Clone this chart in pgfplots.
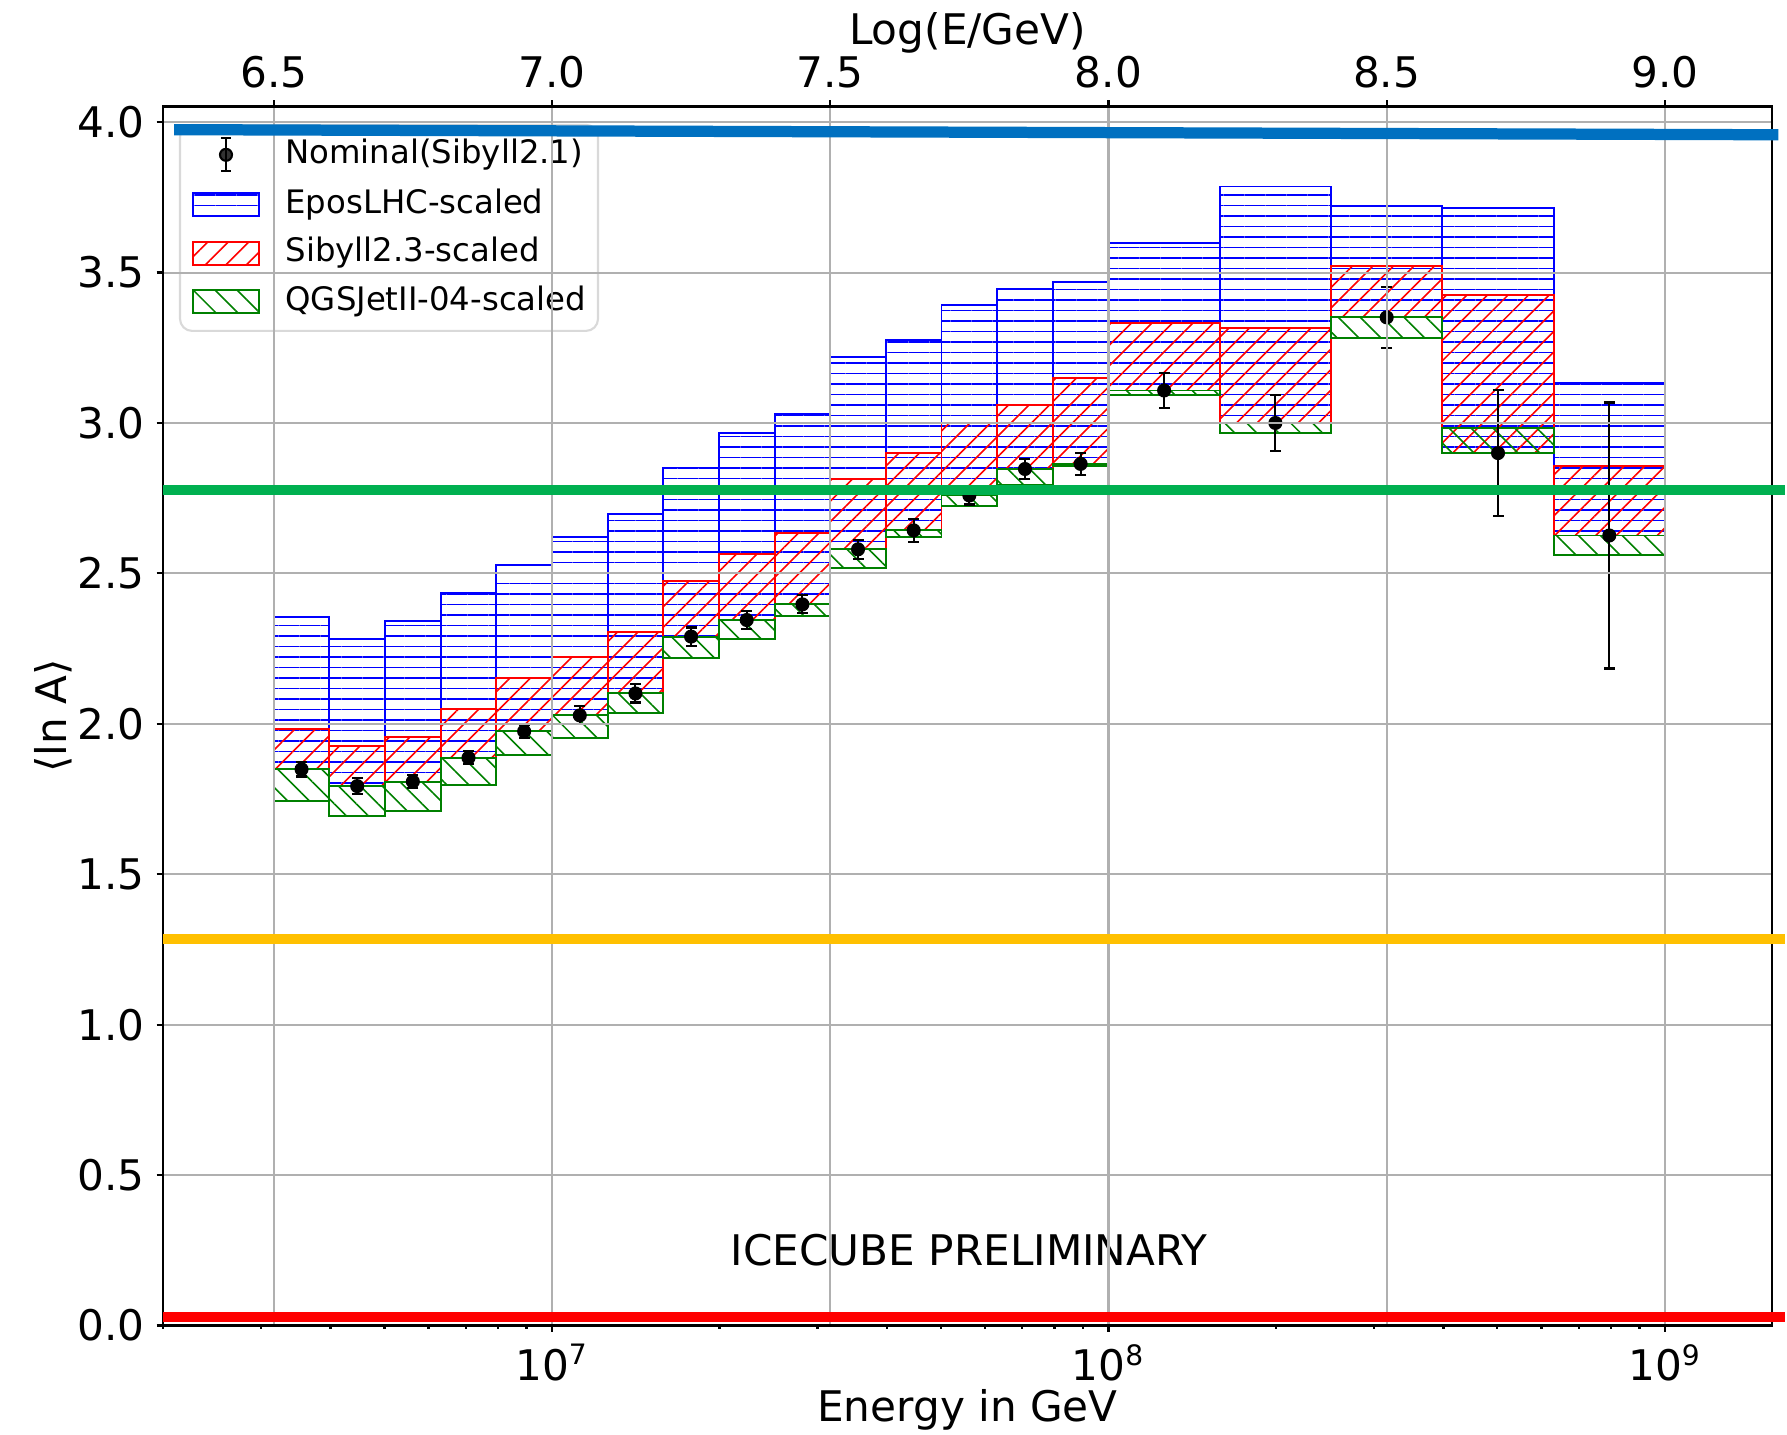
\documentclass[border=0pt]{standalone}
\usepackage{fontspec}
\setmainfont{DejaVu Sans}
\usepackage{pgfplots}
\pgfplotsset{compat=1.18}
\usepackage{pgfplotstable}
\usetikzlibrary{patterns.meta, calc}

\definecolor{lnblue}{HTML}{0070C0}
\definecolor{lngreen}{HTML}{00B050}
\definecolor{lngold}{HTML}{FFC000}
\definecolor{lnred}{HTML}{FF0000}
\definecolor{qgsgreen}{HTML}{008000}
\definecolor{gridgray}{HTML}{B0B0B0}

% bins in log10(E/GeV), nominal <lnA> with error, and the three scaled models
\pgfplotstableread{
lo  hi  xc   nom   err   epos  sib   qgs
6.5 6.6 6.55 1.849 0.024 2.354 1.982 1.743
6.6 6.7 6.65 1.793 0.027 2.283 1.925 1.694
6.7 6.8 6.75 1.808 0.022 2.342 1.957 1.710
6.8 6.9 6.85 1.887 0.022 2.435 2.049 1.796
6.9 7.0 6.95 1.975 0.022 2.528 2.152 1.896
7.0 7.1 7.05 2.028 0.030 2.621 2.222 1.954
7.1 7.2 7.15 2.101 0.030 2.697 2.305 2.036
7.2 7.3 7.25 2.290 0.030 2.852 2.475 2.220
7.3 7.4 7.35 2.345 0.030 2.968 2.566 2.283
7.4 7.5 7.45 2.397 0.030 3.031 2.635 2.358
7.5 7.6 7.55 2.580 0.032 3.219 2.815 2.517
7.6 7.7 7.65 2.643 0.038 3.277 2.899 2.621
7.7 7.8 7.75 2.759 0.030 3.393 3.000 2.724
7.8 7.9 7.85 2.847 0.032 3.446 3.059 2.795
7.9 8.0 7.95 2.864 0.037 3.470 3.149 2.858
8.0 8.2 8.10 3.108 0.058 3.599 3.332 3.094
8.2 8.4 8.30 3.000 0.093 3.786 3.317 2.966
8.4 8.6 8.50 3.351 0.102 3.721 3.522 3.281
8.6 8.8 8.70 2.900 0.210 3.716 3.424 2.983
8.8 9.0 8.90 2.626 0.442 3.133 2.856 2.561
}\bins

\tikzset{
  eposbar/.style={draw=blue, line width=0.55pt, sharp corners,
    pattern={Lines[angle=0,distance=1.05mm,line width=0.55pt]}, pattern color=blue},
  sibbar/.style={draw=red, line width=0.55pt, sharp corners,
    pattern={Lines[angle=45,distance=1.45mm,line width=0.45pt]}, pattern color=red},
  qgsbar/.style={draw=qgsgreen, line width=0.55pt, sharp corners,
    pattern={Lines[angle=-45,distance=1.55mm,line width=0.45pt]}, pattern color=qgsgreen},
}

% one box per bin, from the nominal value to the model value
\newcommand\drawbars[2]{%
  \pgfplotsforeachungrouped \i in {0,...,19}{%
    \pgfplotstablegetelem{\i}{lo}\of\bins \let\blo\pgfplotsretval
    \pgfplotstablegetelem{\i}{hi}\of\bins \let\bhi\pgfplotsretval
    \pgfplotstablegetelem{\i}{nom}\of\bins \let\bnom\pgfplotsretval
    \pgfplotstablegetelem{\i}{#1}\of\bins \let\bval\pgfplotsretval
    \edef\cmd{\noexpand\addplot[#2, forget plot] coordinates
      {(\blo,\bnom) (\bhi,\bnom) (\bhi,\bval) (\blo,\bval)} -- cycle;}%
    \cmd
  }%
}

\newcommand\legbox[1]{%
  \path[draw=none, fill=none] (0,-1.65mm) rectangle (9.25mm,1.65mm);
  \draw[#1] (0,-1.15mm) rectangle (6.6mm,1.15mm);}

\pgfplotsset{
  frame/.style={
    scale only axis, width=160.9mm, height=121.9mm,
    xmin=6.30103, xmax=9.1924, ymin=0, ymax=4.052,
    axis line style={line width=0.6pt},
    tick align=outside,
    major tick length=0.63mm, minor tick length=0.32mm,
    tick style={black, line width=0.6pt},
    /pgf/number format/assume math mode=true,
    tick label style={font=\fontsize{12}{14}\selectfont},
  },
}

\begin{document}
\begin{tikzpicture}
\begin{axis}[
  frame,
  xtick={7,8,9},
  xticklabels={10\textsuperscript{7},10\textsuperscript{8},10\textsuperscript{9}},
  minor xtick={6.30103,6.47712,6.60206,6.69897,6.77815,6.84510,6.90309,6.95424,
    7.30103,7.47712,7.60206,7.69897,7.77815,7.84510,7.90309,7.95424,
    8.30103,8.47712,8.60206,8.69897,8.77815,8.84510,8.90309,8.95424},
  xtick pos=left, ytick pos=left,
  ytick={0,0.5,...,4},
  yticklabel style={/pgf/number format/.cd, fixed, fixed zerofill, precision=1},
  xlabel={Energy in GeV},
  ylabel={\symbol{"27E8}ln A\symbol{"27E9}},
  every axis x label/.style={at={(axis description cs:0.5,-0.0788)}, anchor=base,
    font=\fontsize{12}{14}\selectfont},
  every axis y label/.style={at={(axis description cs:-0.0597,0.5)}, rotate=90, anchor=base,
    font=\fontsize{12}{14}\selectfont},
  legend style={
    at={(rel axis cs:0.00994,0.9858)}, anchor=north west,
    draw=black!15, line width=0.6pt, rounded corners=1.2mm,
    fill=white, fill opacity=0.8, text opacity=1,
    font=\fontsize{9.2}{11}\selectfont,
    inner xsep=1.2mm, inner ysep=1.25mm,
    column sep=0pt, row sep=1.57mm,
    nodes={inner sep=0pt, text height=7pt, text depth=2pt},
  },
  legend cell align=left,
]
\coordinate (O) at (rel axis cs:0,0);

\addlegendimage{legend image code/.code={
  \path[draw=none, fill=none] (0,-1.65mm) rectangle (9.25mm,1.65mm);
  \draw[black, line width=0.55pt, sharp corners] (3.3mm,-1.65mm) -- (3.3mm,1.65mm)
    (2.8mm,-1.65mm) -- (3.8mm,-1.65mm) (2.8mm,1.65mm) -- (3.8mm,1.65mm);
  \fill[black] (3.3mm,0) circle (0.6mm);}}
\addlegendentry{Nominal(Sibyll2.1)}
\addlegendimage{legend image code/.code={\legbox{eposbar}}}
\addlegendentry{EposLHC-scaled}
\addlegendimage{legend image code/.code={\legbox{sibbar}}}
\addlegendentry{Sibyll2.3-scaled}
\addlegendimage{legend image code/.code={\legbox{qgsbar}}}
\addlegendentry{QGSJetII-04-scaled}

\drawbars{epos}{eposbar}
\drawbars{sib}{sibbar}
\drawbars{qgs}{qgsbar}

\addplot[black, only marks, mark=*, mark size=1.8pt, forget plot,
  error bars/.cd, y dir=both, y explicit,
  error bar style={line width=0.6pt, black},
  error mark options={rotate=90, mark size=0.55mm, line width=0.6pt, black}]
  table[x=xc, y=nom, y error=err] {\bins};

\node[anchor=base, font=\fontsize{12}{14}\selectfont] at (axis cs:7.75,0.199) {ICECUBE PRELIMINARY};
\end{axis}

\begin{axis}[
  frame,
  xtick={6.5,7.0,...,9.0},
  xtick pos=right, xticklabel pos=right,
  xticklabel style={/pgf/number format/.cd, fixed, fixed zerofill, precision=1},
  ytick={0,0.5,...,4}, yticklabels={}, ytick style={draw=none},
  grid=major, major grid style={gridgray, line width=0.6pt},
  xlabel={Log(E/GeV)},
  every axis x label/.style={at={(axis description cs:0.5,1.0506)}, anchor=base,
    font=\fontsize{12}{14}\selectfont},
  clip=false,
]
\addplot[lnblue, line width=3.2pt] coordinates {(6.321,3.975) (9.204,3.958)};
\addplot[lngreen, line width=3pt] coordinates {(6.30103,2.777) (9.2154,2.777)};
\addplot[lngold, line width=2.8pt] coordinates {(6.30103,1.285) (9.2154,1.285)};
\addplot[lnred, line width=3pt] coordinates {(6.30103,0.029) (9.2154,0.029)};
\end{axis}

\node[anchor=base east, inner sep=0pt, text=lngold, font=\fontsize{12}{14}\selectfont]
  at ($(O)+(-16.15mm,37.3mm)$) {He};

\pgfresetboundingbox
\path[use as bounding box] ($(O)+(-16.3mm,-10.85mm)$) rectangle ($(O)+(162.4mm,132.55mm)$);
\end{tikzpicture}
\end{document}
